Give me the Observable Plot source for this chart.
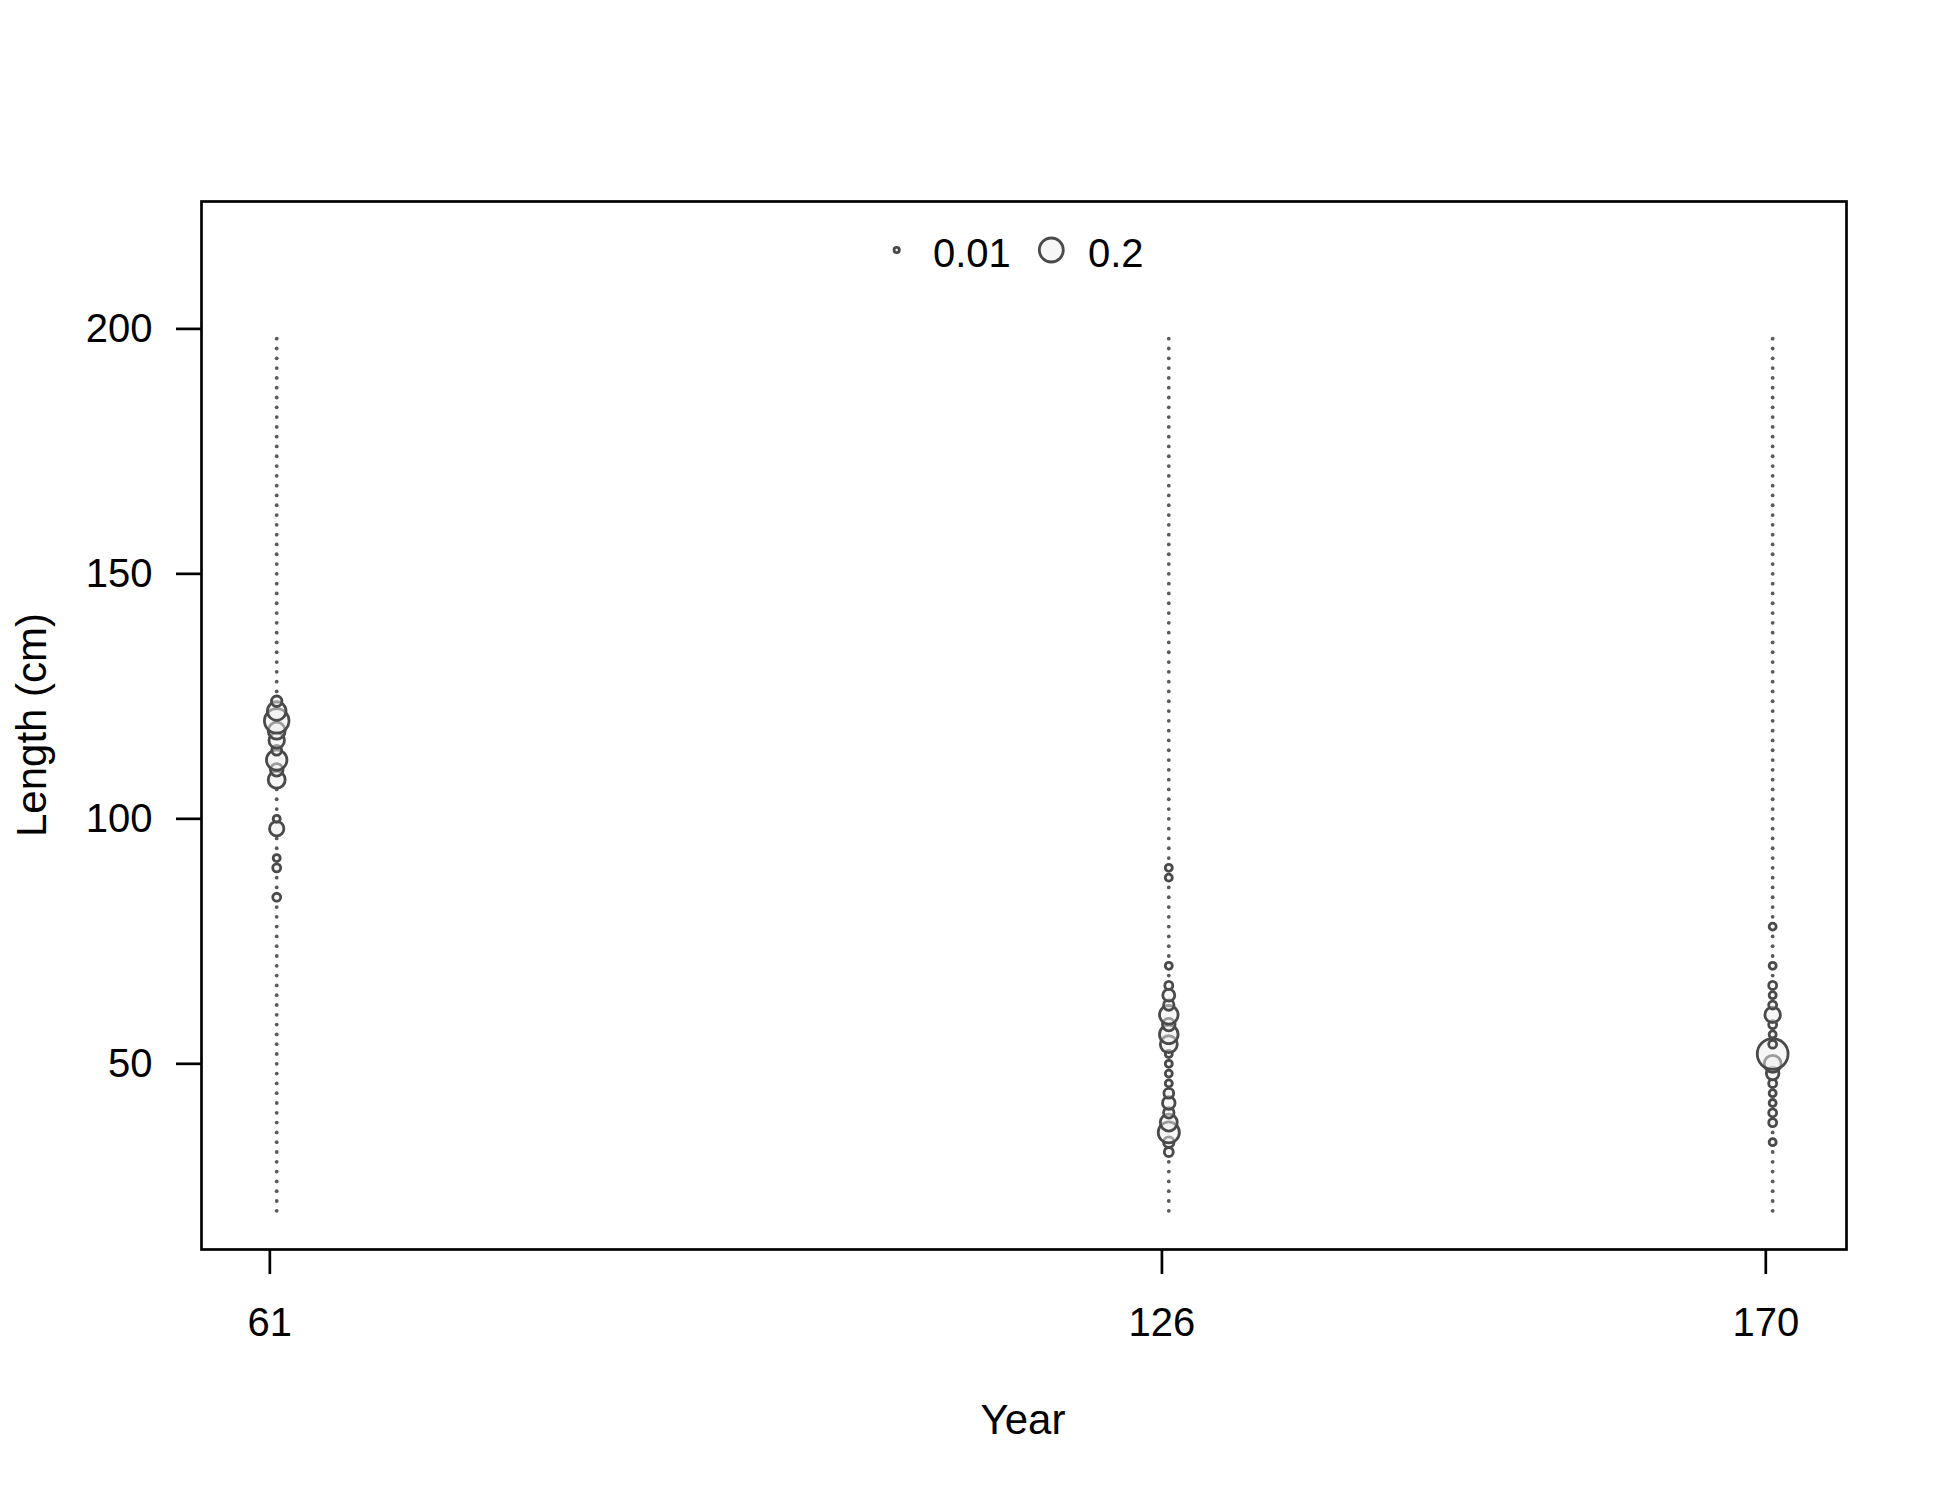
<!DOCTYPE html>
<html><head><meta charset="utf-8">
<script src="https://cdn.jsdelivr.net/npm/d3@7"></script>
<script src="https://cdn.jsdelivr.net/npm/@observablehq/plot@0.6"></script>
<style>body{margin:0;background:#fff} #chart{width:1950px;height:1500px}</style>
</head><body><div id="chart"></div>
<script>
// Length bins (cm)
const lengthBins = [20,22,24,26,28,30,32,34,36,38,40,42,44,46,48,50,52,54,56,58,60,62,64,66,68,70,72,74,76,78,80,82,84,86,88,90,92,94,96,98,100,102,104,106,108,110,112,114,116,118,120,122,124,126,128,130,132,134,136,138,140,142,144,146,148,150,152,154,156,158,160,162,164,166,168,170,172,174,176,178,180,182,184,186,188,190,192,194,196,198];
// Axis ticks
const tickYears = [61, 126, 170];
const yTicks = [50, 100, 150, 200];
// Sample times (mid-year) matching the three tick years
const sampleTimes = [61.5, 126.5, 170.5];
// Non-zero proportions per bin [length, proportion]; all other bins are 0
const comp61 = [[84,0.022],[90,0.022],[92,0.017],[98,0.072],[100,0.017],[108,0.1],[110,0.055],[112,0.145],[114,0.033],[116,0.083],[118,0.1],[120,0.21],[122,0.12],[124,0.038]];
const comp126 = [[32,0.028],[34,0.038],[36,0.155],[38,0.1],[40,0.038],[42,0.055],[44,0.033],[46,0.017],[48,0.017],[50,0.017],[52,0.017],[54,0.1],[56,0.12],[58,0.055],[60,0.12],[62,0.038],[64,0.05],[66,0.022],[70,0.017],[88,0.017],[90,0.017]];
const comp170 = [[34,0.017],[38,0.022],[40,0.022],[42,0.017],[44,0.017],[46,0.022],[48,0.055],[50,0.1],[52,0.33],[54,0.022],[56,0.017],[58,0.022],[60,0.083],[62,0.022],[64,0.017],[66,0.022],[70,0.017],[78,0.017]];
// Legend
const legendValues = [0.01, 0.2];
const legendLabels = ["0.01", "0.2"];

const comps = [comp61, comp126, comp170];
const rows = [];
sampleTimes.forEach((t, i) => {
  const m = new Map(comps[i]);
  lengthBins.forEach(L => rows.push({time: t, length: L, prop: m.get(L) ?? 0}));
});
const zeros = rows.filter(d => d.prop === 0);
const pos = rows.filter(d => d.prop > 0);

const FONT = "'Liberation Sans', Arial, sans-serif";
const STROKE = "#4a4a4a";
const chart = Plot.plot({
  width: 1950, height: 1500,
  marginLeft: 201, marginRight: 104, marginTop: 201, marginBottom: 251,
  style: {fontFamily: FONT, fontSize: "40px", color: "black", background: "white"},
  x: {domain: [56.02, 175.88]},
  y: {domain: [12.1, 226]},
  r: {type: "sqrt", domain: [0, 0.2], range: [0, 12]},
  marks: [
    Plot.axisX({ticks: tickYears, tickFormat: d => String(d), tickSize: 25, tickPadding: 33, strokeWidth: 2.7, fontSize: 40, label: null}),
    Plot.axisY({ticks: yTicks, tickFormat: d => String(d), tickSize: 25, tickPadding: 24, strokeWidth: 2.7, fontSize: 40, label: null}),
    Plot.dot(zeros, {x: "time", y: "length", r: 1.9, fill: "#5a5a5a", stroke: "none"}),
    Plot.dot(pos, {x: "time", y: "length", r: "prop", sort: null, fill: "#eeeeee", fillOpacity: 0.5, stroke: STROKE, strokeWidth: 2.8}),
    Plot.frame({stroke: "black", strokeWidth: 2.7})
  ]
});
document.getElementById("chart").appendChild(chart);

const svg = d3.select(chart);
const rS = chart.scale("r");
// Legend (inside plot, top)
const legX = [896.7, 1051.3], legTX = [933, 1088];
legendValues.forEach((v, i) => {
  svg.append("circle").attr("cx", legX[i]).attr("cy", 250).attr("r", rS.apply(v))
    .attr("fill", "#eeeeee").attr("fill-opacity", 0.5).attr("stroke", STROKE).attr("stroke-width", 2.8);
  svg.append("text").attr("x", legTX[i]).attr("y", 266.5).attr("text-anchor", "start")
    .attr("font-family", FONT).attr("font-size", 40).attr("fill", "black").text(legendLabels[i]);
});
// Axis titles
svg.append("text").attr("x", 1023).attr("y", 1434).attr("text-anchor", "middle")
  .attr("font-family", FONT).attr("font-size", 42).attr("fill", "black").text("Year");
svg.append("text").attr("transform", "translate(46,725) rotate(-90)").attr("text-anchor", "middle")
  .attr("font-family", FONT).attr("font-size", 42).attr("fill", "black").text("Length (cm)");
</script>
</body></html>
